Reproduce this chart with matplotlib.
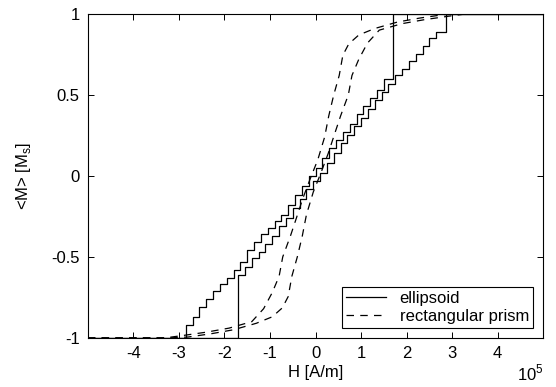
import matplotlib
matplotlib.use("Agg")
import matplotlib.pyplot as plt

plt.rcParams['font.family'] = ['Liberation Sans', 'DejaVu Sans']

# H in units of 1e5 A/m, <M> in units of Ms
# ellipsoid, descending branch (stairs)
ell_dn_h = [-5, -2.85, -2.7, -2.55, -2.4, -2.25, -2.1, -1.95, -1.8, -1.65, -1.5,
            -1.35, -1.2, -1.05, -0.9, -0.75, -0.6, -0.45, -0.3, -0.15, 0.0, 0.15,
            0.3, 0.45, 0.6, 0.75, 0.9, 1.05, 1.2, 1.35, 1.5, 1.7, 5]
ell_dn_m = [-1, -0.92, -0.87, -0.81, -0.76, -0.71, -0.67, -0.63, -0.58, -0.53, -0.46,
            -0.41, -0.36, -0.32, -0.28, -0.24, -0.18, -0.12, -0.06, 0.0, 0.05, 0.11,
            0.17, 0.22, 0.27, 0.32, 0.38, 0.43, 0.48, 0.53, 0.6, 1.0, 1.0]
# ellipsoid, ascending branch (stairs)
ell_up_h = [-5, -1.7, -1.55, -1.4, -1.25, -1.1, -0.95, -0.8, -0.65, -0.5, -0.35,
            -0.2, -0.05, 0.1, 0.25, 0.4, 0.55, 0.7, 0.85, 1.0, 1.15, 1.3, 1.45,
            1.6, 1.75, 1.9, 2.05, 2.2, 2.35, 2.5, 2.65, 2.87, 5]
ell_up_m = [-1, -0.61, -0.56, -0.51, -0.47, -0.42, -0.37, -0.31, -0.26, -0.2, -0.14,
            -0.08, -0.03, 0.02, 0.08, 0.14, 0.2, 0.25, 0.31, 0.36, 0.41, 0.47, 0.52,
            0.57, 0.62, 0.66, 0.71, 0.75, 0.8, 0.85, 0.89, 1.0, 1.0]

# rectangular prism, descending branch
pri_dn_h = [-5, -3.3, -2.9, -2.4, -1.9, -1.4, -1.14, -0.95, -0.8, -0.72, -0.55,
            -0.42, -0.28, -0.12, 0.05, 0.2, 0.29, 0.4, 0.52, 0.6, 0.73, 0.95,
            1.3, 1.8, 2.3, 2.8, 3.2, 5]
pri_dn_m = [-1, -1.0, -0.985, -0.965, -0.94, -0.9, -0.82, -0.72, -0.62, -0.5, -0.37,
            -0.26, -0.14, -0.02, 0.1, 0.24, 0.37, 0.5, 0.62, 0.745, 0.815, 0.87,
            0.91, 0.95, 0.975, 0.995, 1.0, 1]
# rectangular prism, ascending branch
pri_up_h = [-5, -3.2, -2.8, -2.3, -1.8, -1.3, -0.95, -0.73, -0.6, -0.52, -0.4,
            -0.29, -0.2, -0.05, 0.12, 0.28, 0.42, 0.55, 0.72, 0.8, 0.95, 1.14,
            1.4, 1.9, 2.4, 2.9, 3.3, 5]
pri_up_m = [-1, -1.0, -0.995, -0.975, -0.95, -0.91, -0.87, -0.815, -0.745, -0.62, -0.5,
            -0.37, -0.24, -0.1, 0.02, 0.14, 0.26, 0.37, 0.5, 0.62, 0.72, 0.82,
            0.9, 0.94, 0.965, 0.985, 1.0, 1]

xticks = [-4, -3, -2, -1, 0, 1, 2, 3, 4]
yticks = [-1, -0.5, 0, 0.5, 1]
yticklabels = ['-1', '-0.5', '0', '0.5', '1']

fs = 12
fig = plt.figure(figsize=(5.56, 3.87), dpi=100)
ax = fig.add_axes([0.158, 0.127, 0.819, 0.837])

lw = 0.9
dash = (0, (6, 5))
ax.plot(ell_dn_h, ell_dn_m, color='k', lw=lw, drawstyle='steps-post', label='ellipsoid')
ax.plot(ell_up_h, ell_up_m, color='k', lw=lw, drawstyle='steps-post')
ax.plot(pri_dn_h, pri_dn_m, color='k', lw=lw, linestyle=dash, label='rectangular prism')
ax.plot(pri_up_h, pri_up_m, color='k', lw=lw, linestyle=dash)

ax.set_xlim(-5, 5)
ax.set_ylim(-1, 1)
ax.set_xticks(xticks)
ax.set_xticklabels([str(t) for t in xticks])
ax.set_yticks(yticks)
ax.set_yticklabels(yticklabels)
ax.tick_params(direction='in', length=4, width=0.7, top=True, right=True,
               labelsize=fs, pad=6)
for s in ax.spines.values():
    s.set_linewidth(0.8)

ax.set_xlabel('H [A/m]', fontsize=fs, labelpad=3)
ax.set_ylabel(r'<M> [M$_\mathregular{s}$]', fontsize=fs, labelpad=13)
ax.text(1.0, -0.078, r'10$^\mathregular{5}$', transform=ax.transAxes,
        ha='right', va='top', fontsize=fs)

leg = ax.legend(loc='lower right', fontsize=fs, handlelength=2.4,
                fancybox=False, framealpha=1, edgecolor='k',
                borderpad=0.25, labelspacing=0.15, borderaxespad=0.6,
                handletextpad=0.8)
leg.get_frame().set_linewidth(0.8)

fig.savefig('out.png', dpi=100)
